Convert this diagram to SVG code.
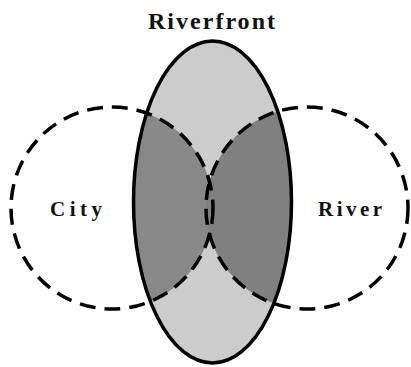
<svg xmlns="http://www.w3.org/2000/svg" width="411" height="367" viewBox="0 0 411 367">
<style>
.lbl{font-family:"Liberation Serif","Times New Roman",serif;fill:#111;text-anchor:middle;font-weight:bold}
.dash{fill:none;stroke:#000;stroke-width:3.5;stroke-dasharray:16 9}
.solid{fill:none;stroke:#000;stroke-width:3.5}
</style>
<defs>
<clipPath id="clipE"><ellipse cx="212.5" cy="202" rx="79" ry="161"/></clipPath>
</defs>
<rect width="411" height="367" fill="#fff"/>
<g id="riverfront">
<ellipse cx="212.5" cy="202" rx="79" ry="161" fill="#cccccc"/>
</g>
<g id="overlaps" clip-path="url(#clipE)">
<circle cx="112" cy="208" r="101" fill="#888888"/>
<circle cx="307" cy="208" r="101" fill="#808080"/>
</g>
<g id="city">
<circle class="dash" cx="112" cy="208" r="101"/>
<text class="lbl" x="76" y="216" font-size="21" textLength="52" lengthAdjust="spacing">City</text>
</g>
<g id="river">
<circle class="dash" cx="307" cy="208" r="101"/>
<text class="lbl" x="350" y="216" font-size="21" textLength="64" lengthAdjust="spacing">River</text>
</g>
<g id="riverfront-outline">
<ellipse class="solid" cx="212.5" cy="202" rx="79" ry="161"/>
<text class="lbl" x="211.5" y="29" font-size="24" textLength="127" lengthAdjust="spacing">Riverfront</text>
</g>
</svg>
